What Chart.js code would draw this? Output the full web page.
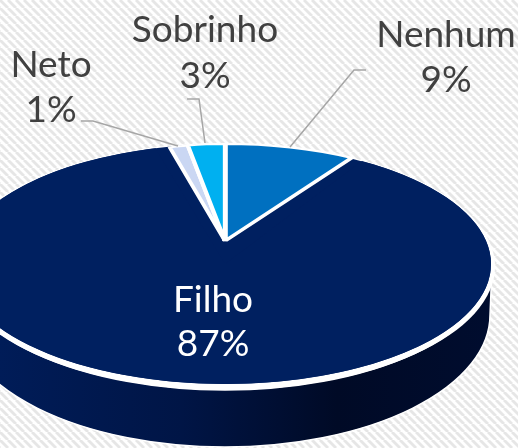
<!DOCTYPE html>
<html>
<head>
<meta charset="utf-8">
<style>
  html, body { margin: 0; padding: 0; background: #fff; overflow: hidden; }
  canvas { display: block; }
</style>
<script src="https://cdn.jsdelivr.net/npm/chart.js@4/dist/chart.umd.min.js"></script>
</head>
<body>
<canvas id="myChart" width="518" height="448"></canvas>
<script>
const categories = ["Nenhum", "Filho", "Neto", "Sobrinho"];
const shares = [8.6, 87.2, 1.4, 2.8];
const sliceColors = ["#0070c0", "#002060", "#cad7f3", "#00b0f0"];
const sliceBorders = [5, 0, 4.5, 4.5];

// where the tilted disc sits on the page
const disc = { x: 225, y: 264, rx: 266, ry: 120 };
const lip = { x: 225, y: 266.5, rx: 270, ry: 123.5 };
const wallBottom = { x: 225, y: 315, rx: 265, ry: 132 };
// the back slices meet above the disc centre (perspective), so they get their own projection
const apex = { x: 225, y: 241, ry: 97 };
const apexRx = [246, 0, 212, 212];

const labelPos = [
  { x: 446, y: 47, dy: 45, color: "#404040" },
  { x: 213, y: 312, dy: 44, color: "#ffffff" },
  { x: 51, y: 77, dy: 45, color: "#404040" },
  { x: 205, y: 42, dy: 46, color: "#404040" },
];
const leaders = [
  [[290, 147], [354, 70], [366, 70]],
  null,
  [[178, 146], [93, 121], [81, 121]],
  [[205, 143], [199, 99], [187, 99]],
];

function stripes() {
  const p = document.createElement("canvas");
  p.width = 8;
  p.height = 8;
  const c = p.getContext("2d");
  c.fillStyle = "#ffffff";
  c.fillRect(0, 0, 8, 8);
  c.strokeStyle = "#e6e6e6";
  c.lineWidth = 2.8;
  for (let i = -8; i <= 16; i += 8) {
    c.beginPath();
    c.moveTo(i, 0);
    c.lineTo(i + 8, 8);
    c.stroke();
  }
  return c.createPattern(p, "repeat");
}

const tiltedPie = {
  id: "tiltedPie",
  beforeDraw(chart) {
    const ctx = chart.ctx;
    ctx.fillStyle = stripes();
    ctx.fillRect(0, 0, chart.width, chart.height);
  },
  beforeDatasetDraw(chart, args) {
    const ctx = chart.ctx;
    const arcs = args.meta.data;
    const filho = categories.indexOf("Filho");

    // side wall
    const grad = ctx.createLinearGradient(0, 0, chart.width, 0);
    grad.addColorStop(0, "#001c58");
    grad.addColorStop(0.35, "#001546");
    grad.addColorStop(0.65, "#000a26");
    grad.addColorStop(1, "#000d30");
    ctx.save();
    ctx.beginPath();
    ctx.ellipse(lip.x, lip.y, lip.rx - 3, lip.ry, 0, Math.PI, 0, true);
    ctx.lineTo(wallBottom.x + wallBottom.rx, wallBottom.y);
    ctx.ellipse(wallBottom.x, wallBottom.y, wallBottom.rx, wallBottom.ry, 0, 0, Math.PI);
    ctx.closePath();
    ctx.fillStyle = grad;
    ctx.fill();
    ctx.strokeStyle = "#ffffff";
    ctx.lineWidth = 1.5;
    ctx.stroke();

    // white lip, heavier along the front edge
    ctx.beginPath();
    ctx.ellipse(lip.x, lip.y, lip.rx, lip.ry, 0, 0, Math.PI * 2);
    ctx.fillStyle = "#ffffff";
    ctx.fill();
    ctx.beginPath();
    ctx.ellipse(disc.x, disc.y, disc.rx, disc.ry, 0, 0, Math.PI * 2);
    ctx.fillStyle = sliceColors[filho];
    ctx.fill();
    ctx.restore();

    arcs.forEach((arc, i) => {
      const r = arc.outerRadius;
      ctx.save();
      if (i === filho) {
        ctx.translate(disc.x, disc.y);
        ctx.scale(disc.rx / r, disc.ry / r);
      } else {
        ctx.translate(apex.x, apex.y);
        ctx.scale(apexRx[i] / r, apex.ry / r);
      }
      ctx.translate(-arc.x, -arc.y);
      arc.draw(ctx);
      ctx.restore();
    });
    return false;
  },
  afterDatasetsDraw(chart) {
    const ctx = chart.ctx;
    ctx.save();
    ctx.strokeStyle = "#a6a6a6";
    ctx.lineWidth = 1.5;
    leaders.forEach((pts) => {
      if (!pts) return;
      ctx.beginPath();
      pts.forEach((p, k) => (k ? ctx.lineTo(p[0], p[1]) : ctx.moveTo(p[0], p[1])));
      ctx.stroke();
    });
    ctx.font = "37px Lato";
    ctx.textAlign = "center";
    categories.forEach((name, i) => {
      const p = labelPos[i];
      ctx.fillStyle = p.color;
      ctx.fillText(name, p.x, p.y);
      ctx.fillText(Math.round(shares[i]) + "%", p.x, p.y + p.dy);
    });
    ctx.restore();
  },
};

new Chart("myChart", {
  type: "pie",
  data: {
    labels: categories,
    datasets: [
      {
        data: shares,
        backgroundColor: sliceColors,
        borderColor: "#ffffff",
        borderWidth: sliceBorders,
      },
    ],
  },
  options: {
    responsive: false,
    animation: false,
    plugins: {
      legend: { display: false },
      tooltip: { enabled: false },
    },
  },
  plugins: [tiltedPie],
});
</script>
</body>
</html>
